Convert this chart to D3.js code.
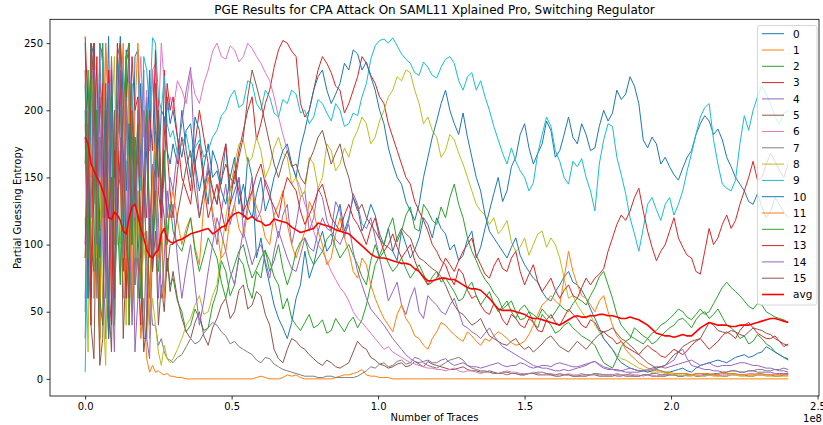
<!DOCTYPE html>
<html>
<head>
<meta charset="utf-8">
<script src="https://cdn.jsdelivr.net/npm/d3@7"></script>
<style>
  body { margin: 0; background: #fff; }
  svg { display: block; font-family: "DejaVu Sans", sans-serif; }
</style>
</head>
<body>
<div id="chart"></div>
<script>
// sample grid (in 1e8 traces): 30 samples every 0.01 from 0, 60 every 0.015 from 0.3, 81 every 0.015 from 1.2
const grid = [{ start: 0, step: 0.01, count: 30 }, { start: 0.3, step: 0.015, count: 60 }, { start: 1.2, step: 0.015, count: 81 }];
const xTicks = [0, 0.5, 1.0, 1.5, 2.0, 2.5];
const yTicks = [0, 50, 100, 150, 200, 250];
const seriesNames = ["0", "1", "2", "3", "4", "5", "6", "7", "8", "9", "10", "11", "12", "13", "14", "15", "avg"];
const seriesColors = ["#1f77b4", "#ff7f0e", "#2ca02c", "#d62728", "#9467bd", "#8c564b", "#e377c2", "#7f7f7f",
  "#bcbd22", "#17becf", "#1f77b4", "#ff7f0e", "#2ca02c", "#d62728", "#9467bd", "#8c564b", "#ff0000"];

const s0 = [250, 140, 220, 180, 90, 250, 240, 160, 255, 120, 60, 190, 200, 130, 245,
  235, 110, 180, 160, 220, 140, 210, 170, 230, 185, 150, 200, 195, 170, 160,
  175, 160, 200, 170, 150, 195, 185, 150, 130, 170, 160, 145, 175, 130, 140, 150, 120, 165, 150, 90,
  105, 85, 70, 55, 45, 38, 30, 42, 60, 70, 95, 75, 85, 100, 110, 95, 100, 118, 130, 110,
  120, 135, 128, 110, 118, 130, 122, 108, 100, 112, 95, 88, 110, 100, 90, 96, 105, 120, 115, 105,
  120, 112, 108, 96, 100, 88, 92, 104, 110, 90, 98, 112, 125, 138, 150, 132, 140, 158, 165, 182,
  190, 172, 160, 168, 175, 192, 185, 165, 170, 182, 195, 180, 175, 190, 182, 170, 172, 188, 200, 192,
  198, 215, 208, 212, 225, 218, 205, 178, 172, 180, 175, 160, 165, 158, 152, 148, 157, 165, 170, 182,
  190, 196, 192, 182, 186, 178, 165, 158, 150, 145, 140, 132, 130, 138, 128, 120, 125, 135, 130, 124, 120];
const s1 = [190, 100, 250, 60, 150, 20, 230, 120, 200, 100, 40, 170, 150, 60, 110,
  40, 130, 70, 90, 30, 60, 15, 5, 10, 5, 6, 4, 3, 4, 2,
  2, 1, 1, 0, 0, 0, 0, 0, 0, 0, 0, 0, 0, 0, 0, 0, 0, 0, 0, 1,
  2, 1, 0, 0, 0, 1, 3, 2, 3, 1, 0, 0, 0, 0, 0, 0, 0, 1, 2, 3,
  3, 4, 5, 7, 3, 2, 2, 1, 1, 1, 0, 0, 0, 0, 0, 0, 0, 0, 0, 0,
  0, 0, 0, 0, 0, 0, 0, 0, 0, 0, 0, 0, 0, 0, 0, 0, 0, 0, 0, 0,
  0, 0, 0, 0, 0, 0, 0, 0, 0, 0, 0, 0, 0, 0, 0, 0, 0, 0, 0, 0,
  0, 0, 0, 0, 0, 0, 0, 0, 0, 0, 0, 0, 0, 0, 0, 0, 0, 0, 0, 0,
  0, 0, 0, 0, 0, 0, 0, 0, 0, 0, 0, 0, 0, 0, 0, 0, 0, 0, 0, 0, 0];
const s2 = [160, 230, 100, 80, 200, 30, 250, 150, 210, 120, 40, 180, 200, 90, 240,
  40, 130, 70, 180, 110, 150, 90, 60, 120, 140, 80, 110, 60, 90, 70,
  75, 58, 50, 35, 40, 52, 45, 36, 38, 55, 65, 88, 80, 62, 70, 90, 85, 68, 60, 80,
  75, 95, 88, 76, 70, 52, 60, 45, 40, 36, 42, 48, 38, 40, 44, 34, 36, 45, 40, 35,
  42, 46, 38, 44, 55, 70, 85, 92, 100, 112, 120, 102, 110, 122, 128, 112, 110, 130, 125, 118,
  115, 128, 120, 135, 145, 130, 120, 105, 95, 88, 80, 74, 70, 64, 60, 52, 55, 58, 50, 44,
  45, 50, 42, 38, 48, 44, 40, 34, 36, 40, 42, 38, 35, 32, 30, 28, 25, 18, 12, 10,
  8, 15, 24, 28, 30, 38, 35, 32, 30, 26, 28, 32, 35, 38, 40, 44, 45, 42, 38, 44,
  48, 50, 45, 48, 52, 46, 40, 38, 35, 30, 32, 26, 28, 33, 30, 26, 24, 20, 18, 16, 15];
const s3 = [255, 200, 60, 140, 240, 110, 220, 90, 30, 60, 160, 250, 180, 80, 200,
  250, 140, 170, 90, 40, 120, 200, 110, 160, 150, 210, 100, 230, 170, 140,
  120, 155, 180, 160, 140, 175, 200, 180, 160, 140, 130, 160, 175, 140, 150, 170, 185, 200, 210, 178,
  190, 205, 215, 232, 245, 252, 250, 244, 240, 205, 195, 200, 215, 230, 240, 235, 228, 218, 215, 198,
  205, 215, 225, 240, 235, 226, 220, 210, 205, 190, 180, 170, 160, 150, 145, 132, 125, 118, 110, 100,
  95, 88, 85, 76, 70, 82, 78, 66, 60, 62, 55, 50, 48, 56, 52, 44, 40, 48, 45, 40,
  38, 45, 42, 36, 35, 44, 48, 42, 40, 46, 52, 48, 45, 40, 38, 44, 42, 36, 35, 32,
  30, 26, 28, 24, 22, 20, 18, 22, 25, 22, 20, 17, 16, 19, 22, 20, 18, 21, 25, 28,
  30, 26, 22, 25, 28, 32, 35, 33, 30, 36, 40, 42, 38, 34, 32, 30, 30, 32, 28, 24, 26];
const s4 = [180, 60, 220, 250, 120, 200, 100, 30, 170, 210, 70, 140, 150, 240, 100,
  240, 160, 20, 60, 130, 200, 190, 90, 160, 130, 60, 100, 170, 120, 150,
  140, 170, 190, 215, 232, 160, 120, 140, 160, 120, 100, 125, 145, 115, 130, 150, 110, 130, 150, 118,
  125, 148, 140, 120, 105, 122, 130, 100, 115, 135, 140, 110, 120, 142, 135, 118, 110, 132, 125, 105,
  118, 138, 130, 115, 112, 120, 105, 90, 75, 58, 65, 72, 55, 48, 60, 68, 50, 45, 62, 58,
  55, 50, 48, 55, 60, 50, 40, 38, 35, 33, 30, 34, 38, 32, 28, 24, 22, 20, 18, 16,
  14, 12, 10, 9, 8, 8, 7, 6, 6, 7, 6, 7, 8, 9, 10, 12, 13, 11, 9, 8,
  7, 6, 6, 5, 5, 5, 5, 6, 6, 7, 8, 9, 10, 12, 14, 20, 22, 15, 10, 9,
  8, 7, 7, 6, 6, 5, 5, 6, 6, 5, 5, 6, 6, 5, 5, 5, 5, 4, 4, 4, 4];
const s5 = [230, 100, 40, 15, 150, 220, 200, 80, 60, 20, 200, 120, 170, 30, 90,
  60, 180, 110, 140, 70, 30, 30, 120, 80, 110, 40, 70, 50, 90, 65,
  80, 60, 45, 35, 30, 42, 50, 32, 25, 38, 45, 55, 60, 45, 50, 66, 70, 52, 55, 65,
  62, 48, 40, 22, 15, 12, 22, 30, 28, 24, 22, 18, 15, 12, 10, 14, 12, 9, 8, 10,
  12, 20, 28, 24, 22, 16, 14, 11, 10, 8, 9, 11, 12, 9, 10, 13, 11, 9, 13, 11,
  10, 9, 8, 7, 7, 8, 9, 7, 6, 6, 5, 5, 6, 5, 4, 5, 5, 4, 4, 3,
  3, 4, 4, 3, 3, 3, 3, 2, 2, 3, 3, 2, 2, 2, 2, 3, 3, 2, 2, 2,
  2, 3, 3, 2, 2, 2, 2, 3, 3, 2, 2, 2, 2, 3, 3, 2, 2, 3, 3, 2,
  2, 3, 3, 3, 3, 2, 2, 3, 3, 3, 3, 2, 2, 3, 3, 3, 3, 2, 2, 3, 3];
const s6 = [60, 150, 240, 210, 80, 170, 100, 250, 190, 240, 130, 200, 180, 230, 140,
  165, 210, 120, 195, 240, 180, 215, 170, 230, 235, 190, 250, 220, 200, 210,
  200, 222, 215, 205, 228, 212, 205, 220, 230, 244, 250, 240, 238, 248, 245, 236, 240, 250, 246, 240,
  235, 228, 222, 210, 195, 182, 170, 160, 150, 142, 130, 122, 110, 100, 95, 88, 80, 74, 68, 64,
  58, 50, 45, 42, 38, 34, 30, 26, 22, 24, 20, 18, 16, 14, 12, 11, 10, 9, 8, 8,
  7, 7, 6, 7, 8, 6, 5, 6, 6, 5, 4, 5, 5, 4, 4, 5, 6, 5, 5, 4,
  4, 4, 5, 4, 3, 4, 4, 3, 3, 3, 4, 3, 3, 4, 3, 3, 4, 4, 3, 3,
  3, 4, 3, 3, 4, 3, 3, 2, 3, 3, 2, 3, 3, 3, 3, 4, 4, 3, 3, 3,
  3, 2, 3, 3, 2, 3, 3, 4, 3, 3, 3, 4, 4, 3, 3, 3, 3, 4, 3, 3, 3];
const s7 = [30, 150, 240, 200, 60, 180, 120, 220, 40, 240, 100, 170, 80, 130, 210,
  160, 50, 120, 60, 100, 30, 110, 70, 40, 40, 25, 30, 20, 15, 14,
  12, 16, 18, 24, 30, 26, 28, 34, 38, 42, 40, 35, 32, 26, 28, 24, 22, 20, 18, 14,
  12, 16, 15, 11, 9, 7, 6, 5, 4, 3, 2, 2, 2, 1, 1, 2, 2, 1, 1, 1,
  1, 1, 2, 4, 6, 9, 8, 11, 12, 9, 10, 13, 14, 11, 12, 16, 15, 12, 10, 9,
  8, 10, 12, 14, 15, 16, 14, 10, 8, 7, 6, 6, 5, 4, 4, 4, 3, 4, 4, 3,
  3, 4, 4, 5, 5, 4, 3, 3, 4, 3, 3, 2, 2, 3, 3, 3, 4, 3, 3, 3,
  3, 2, 2, 3, 3, 2, 2, 3, 3, 4, 4, 3, 3, 3, 3, 2, 2, 3, 3, 4,
  4, 3, 3, 4, 4, 5, 5, 6, 6, 5, 5, 6, 6, 7, 7, 6, 6, 7, 7, 8, 7];
const s8 = [120, 20, 200, 230, 90, 150, 60, 10, 140, 190, 240, 100, 100, 170, 40,
  220, 150, 90, 140, 60, 100, 80, 30, 60, 40, 20, 10, 25, 15, 12,
  15, 22, 30, 40, 45, 55, 62, 48, 50, 62, 70, 95, 120, 140, 160, 175, 178, 160, 165, 180,
  170, 150, 158, 172, 180, 168, 165, 145, 150, 135, 140, 165, 160, 142, 150, 175, 170, 155, 160, 172,
  165, 178, 185, 195, 190, 175, 180, 192, 200, 210, 215, 225, 222, 230, 228, 215, 205, 190, 195, 185,
  180, 165, 170, 182, 178, 168, 160, 150, 140, 130, 125, 122, 115, 120, 108, 112, 118, 102, 95, 98,
  105, 92, 100, 108, 110, 98, 105, 100, 90, 75, 60, 62, 55, 50, 45, 48, 40, 35, 30, 26,
  22, 18, 15, 14, 12, 10, 8, 7, 6, 5, 5, 5, 4, 4, 3, 3, 3, 2, 2, 3,
  2, 2, 3, 2, 2, 2, 2, 3, 3, 2, 2, 2, 2, 3, 3, 2, 2, 2, 2, 2, 2];
const s9 = [5, 120, 220, 200, 100, 250, 235, 150, 40, 180, 110, 240, 215, 90, 160,
  170, 220, 130, 200, 140, 240, 230, 200, 254, 250, 210, 200, 225, 190, 180,
  185, 168, 175, 182, 165, 172, 178, 165, 170, 180, 185, 196, 200, 210, 215, 202, 205, 222, 220, 205,
  200, 215, 210, 198, 195, 208, 205, 215, 212, 198, 200, 190, 195, 208, 205, 198, 192, 205, 200, 188,
  190, 198, 196, 210, 220, 238, 248, 252, 253, 250, 254, 248, 242, 238, 235, 228, 226, 236, 232, 226,
  224, 232, 238, 240, 235, 222, 215, 225, 228, 215, 222, 210, 200, 188, 178, 168, 160, 172, 162, 155,
  150, 140, 146, 168, 182, 195, 188, 170, 162, 150, 145, 162, 158, 164, 150, 140, 125, 160, 178, 190,
  188, 165, 152, 138, 120, 108, 95, 112, 130, 135, 126, 118, 130, 135, 122, 130, 140, 155, 168, 182,
  195, 202, 205, 178, 160, 145, 142, 140, 148, 175, 196, 185, 200, 210, 218, 212, 205, 195, 190, 198, 200];
const s10 = [200, 60, 240, 250, 180, 90, 140, 220, 30, 230, 150, 200, 255, 210, 140,
  190, 100, 240, 245, 160, 120, 170, 230, 90, 220, 180, 130, 150, 210, 190,
  200, 180, 165, 185, 190, 160, 140, 158, 175, 150, 155, 140, 130, 150, 165, 130, 145, 128, 120, 138,
  150, 125, 135, 150, 160, 170, 175, 160, 150, 172, 185, 200, 215, 225, 230, 215, 205, 212, 220, 235,
  230, 245, 242, 230, 236, 225, 215, 200, 190, 172, 160, 150, 145, 132, 125, 118, 130, 150, 165, 180,
  192, 205, 215, 200, 190, 182, 198, 180, 165, 150, 140, 122, 110, 105, 100, 95, 90, 98, 105, 92,
  85, 80, 75, 72, 65, 60, 58, 65, 70, 76, 80, 72, 70, 66, 60, 52, 45, 38, 30, 26,
  22, 16, 12, 10, 8, 7, 6, 6, 5, 6, 7, 6, 5, 5, 6, 7, 8, 6, 5, 8,
  10, 11, 12, 13, 14, 13, 12, 14, 16, 17, 18, 16, 17, 19, 20, 24, 22, 20, 18, 16, 14];
const s11 = [90, 200, 150, 240, 100, 30, 160, 250, 200, 50, 120, 180, 210, 250, 70,
  130, 60, 200, 250, 180, 110, 100, 40, 150, 180, 90, 120, 60, 110, 130,
  140, 118, 100, 112, 120, 98, 85, 130, 150, 125, 110, 90, 95, 120, 130, 112, 105, 125, 140, 128,
  120, 105, 100, 122, 130, 140, 115, 100, 90, 100, 110, 132, 125, 110, 100, 85, 90, 108, 120, 105,
  95, 80, 75, 90, 85, 70, 60, 52, 45, 40, 35, 48, 55, 45, 40, 32, 30, 25, 22, 30,
  35, 42, 40, 36, 33, 30, 28, 35, 32, 28, 25, 30, 28, 32, 35, 33, 30, 27, 25, 26,
  28, 33, 40, 48, 55, 58, 62, 58, 55, 75, 95, 80, 70, 62, 60, 55, 50, 58, 62, 50,
  40, 32, 28, 22, 18, 15, 12, 10, 8, 7, 6, 6, 5, 5, 4, 4, 4, 4, 3, 4,
  4, 4, 4, 3, 3, 4, 4, 4, 4, 3, 3, 3, 3, 4, 4, 3, 3, 3, 3, 3, 3];
const s12 = [220, 90, 250, 130, 200, 60, 40, 160, 230, 190, 60, 120, 70, 200, 240,
  250, 100, 180, 110, 60, 150, 200, 120, 90, 130, 200, 140, 170, 100, 130,
  110, 100, 95, 108, 120, 95, 80, 92, 105, 98, 90, 72, 60, 75, 85, 95, 100, 86, 75, 82,
  90, 96, 80, 88, 100, 82, 70, 80, 95, 102, 105, 92, 85, 90, 95, 104, 108, 98, 90, 95,
  100, 92, 85, 76, 70, 88, 100, 90, 95, 86, 80, 84, 90, 82, 75, 80, 85, 78, 70, 76,
  80, 72, 75, 70, 65, 58, 60, 68, 72, 62, 55, 60, 65, 56, 50, 54, 58, 50, 45, 52,
  55, 50, 48, 45, 52, 48, 45, 50, 55, 52, 50, 56, 60, 58, 55, 62, 68, 76, 80, 70,
  60, 48, 40, 36, 32, 30, 28, 26, 30, 34, 36, 40, 42, 45, 48, 52, 50, 46, 44, 48,
  52, 48, 50, 56, 62, 68, 72, 68, 65, 62, 58, 54, 52, 56, 55, 50, 48, 46, 45, 44, 42];
const s13 = [100, 190, 40, 250, 140, 210, 180, 80, 230, 40, 170, 120, 230, 120, 60,
  160, 240, 200, 210, 90, 150, 120, 200, 170, 245, 140, 120, 180, 220, 200,
  210, 180, 150, 140, 130, 160, 175, 145, 120, 132, 145, 125, 110, 130, 155, 140, 125, 132, 140, 152,
  160, 145, 135, 128, 120, 138, 150, 145, 140, 125, 115, 122, 130, 140, 145, 132, 120, 115, 110, 122,
  130, 120, 115, 108, 100, 112, 120, 105, 95, 100, 108, 98, 90, 95, 100, 88, 80, 75, 70, 72,
  75, 82, 90, 85, 80, 88, 95, 100, 105, 92, 85, 78, 75, 84, 90, 82, 80, 90, 95, 80,
  70, 78, 85, 72, 65, 70, 75, 66, 60, 66, 70, 62, 60, 68, 75, 70, 75, 78, 82, 95,
  105, 115, 122, 118, 125, 135, 142, 125, 110, 98, 88, 95, 100, 110, 120, 105, 98, 92, 90, 80,
  78, 95, 112, 100, 105, 115, 122, 112, 118, 130, 140, 150, 162, 148, 150, 160, 168, 162, 155, 150, 160];
const s14 = [50, 200, 120, 230, 100, 250, 150, 60, 220, 80, 20, 180, 250, 140, 200,
  120, 40, 90, 200, 150, 230, 30, 15, 100, 160, 120, 60, 90, 140, 120,
  130, 90, 60, 82, 100, 70, 40, 58, 80, 100, 120, 108, 95, 80, 70, 92, 110, 98, 85, 95,
  100, 88, 75, 95, 110, 100, 90, 82, 80, 92, 105, 98, 95, 110, 120, 112, 110, 104, 100, 108,
  115, 95, 80, 70, 60, 52, 48, 44, 40, 35, 30, 26, 22, 18, 15, 13, 12, 13, 14, 12,
  12, 14, 15, 12, 10, 11, 12, 10, 9, 9, 8, 9, 10, 11, 12, 10, 9, 10, 10, 12,
  11, 9, 8, 9, 10, 10, 9, 11, 12, 11, 10, 9, 9, 10, 11, 12, 13, 10, 8, 7,
  7, 7, 6, 7, 8, 7, 6, 6, 7, 8, 9, 9, 8, 9, 10, 11, 12, 13, 14, 12,
  10, 11, 12, 10, 9, 10, 10, 10, 11, 12, 12, 11, 10, 10, 9, 8, 8, 7, 6, 6, 5];
const s15 = [90, 160, 250, 220, 110, 10, 30, 200, 120, 150, 60, 240, 250, 170, 100,
  80, 200, 130, 190, 90, 20, 40, 120, 80, 160, 200, 140, 120, 80, 100,
  100, 122, 140, 158, 170, 140, 120, 138, 155, 142, 130, 148, 160, 150, 145, 165, 180, 210, 230, 218,
  205, 190, 175, 160, 150, 162, 170, 158, 160, 150, 145, 162, 170, 180, 185, 172, 160, 168, 175, 160,
  150, 135, 125, 130, 120, 115, 110, 104, 100, 98, 95, 105, 112, 108, 105, 96, 90, 88, 85, 82,
  80, 76, 70, 62, 55, 50, 48, 44, 40, 42, 45, 38, 32, 30, 28, 26, 25, 28, 30, 25,
  22, 24, 20, 23, 26, 30, 32, 28, 24, 22, 20, 24, 28, 25, 22, 26, 30, 33, 35, 36,
  38, 34, 30, 28, 25, 22, 18, 15, 12, 10, 8, 9, 10, 14, 18, 20, 24, 26, 28, 29,
  30, 36, 42, 40, 36, 35, 34, 36, 35, 33, 32, 35, 38, 37, 36, 34, 33, 30, 28, 26, 25];
const avg = [180, 175, 160, 155, 150, 146, 140, 133, 120, 119, 124, 122, 118, 110, 108,
  120, 128, 130, 122, 112, 105, 96, 92, 90, 94, 96, 108, 112, 104, 102,
  101, 103, 104, 106, 108, 109, 110, 111, 112, 108, 110, 113, 114, 120, 123, 124, 122, 119, 121, 118,
  117, 114, 115, 119, 118, 117, 116, 113, 111, 109, 110, 111, 112, 116, 115, 114, 113, 111, 110, 109,
  108, 105, 102, 99, 96, 93, 91, 90, 90, 89, 88, 87, 86, 86, 85, 82, 80, 76, 73, 73,
  74, 75, 75, 74, 74, 72, 70, 68, 67, 67, 66, 63, 60, 56, 52, 51, 51, 51, 50, 49,
  48, 46, 45, 45, 44, 43, 42, 41, 40, 42, 44, 46, 47, 46, 46, 47, 47, 48, 48, 47,
  47, 46, 45, 45, 46, 45, 44, 42, 40, 37, 34, 33, 32, 32, 31, 32, 33, 32, 32, 35,
  38, 40, 42, 41, 40, 40, 40, 39, 39, 40, 40, 40, 41, 42, 43, 44, 45, 45, 44, 43, 42];

const seriesValues = [s0, s1, s2, s3, s4, s5, s6, s7, s8, s9, s10, s11, s12, s13, s14, s15, avg];

// trace count (in 1e8) of sample i
function traceAt(i) {
  for (const seg of grid) {
    if (i < seg.count) return seg.start + i * seg.step;
    i -= seg.count;
  }
  return NaN;
}

const W = 823, H = 425;
const plot = { left: 50, right: 819, top: 19.3, bottom: 396 };

const svg = d3.select("#chart").append("svg").attr("width", W).attr("height", H);

const x = d3.scaleLinear().domain([-0.12, 2.505]).range([plot.left, plot.right]);
const y = d3.scaleLinear().domain([-12.75, 267.75]).range([plot.bottom, plot.top]);

const line = d3.line()
  .defined((d, i) => !isNaN(traceAt(i)))
  .x((d, i) => x(traceAt(i)))
  .y(d => y(d));

const lines = svg.append("g");
seriesValues.forEach((vals, k) => {
  lines.append("path")
    .datum(vals)
    .attr("fill", "none")
    .attr("stroke", seriesColors[k])
    .attr("stroke-width", k === 16 ? 1.6 : 1)
    .attr("stroke-linejoin", "round")
    .attr("d", line);
});

// axes
const gx = svg.append("g").attr("transform", `translate(0,${plot.bottom})`)
  .call(d3.axisBottom(x).tickValues(xTicks).tickFormat(d3.format(".1f")).tickSizeOuter(0).tickSize(3.5).tickPadding(3.5));
const gy = svg.append("g").attr("transform", `translate(${plot.left},0)`)
  .call(d3.axisLeft(y).tickValues(yTicks).tickSizeOuter(0).tickSize(3.5).tickPadding(3.5));
[gx, gy].forEach(g => {
  g.select(".domain").remove();
  g.selectAll("line").attr("stroke", "#000").attr("stroke-width", 0.8);
  g.selectAll("text").attr("fill", "#000").style("font-size", "10px").style("font-family", "DejaVu Sans");
});

svg.append("rect")
  .attr("x", plot.left).attr("y", plot.top)
  .attr("width", plot.right - plot.left).attr("height", plot.bottom - plot.top)
  .attr("fill", "none").attr("stroke", "#000").attr("stroke-width", 0.8);

svg.append("text")
  .attr("x", (plot.left + plot.right) / 2).attr("y", 14)
  .attr("text-anchor", "middle")
  .style("font-size", "12px")
  .text("PGE Results for CPA Attack On SAML11 Xplained Pro, Switching Regulator");

svg.append("text")
  .attr("x", (plot.left + plot.right) / 2).attr("y", 421)
  .attr("text-anchor", "middle")
  .style("font-size", "10px")
  .text("Number of Traces");

svg.append("text")
  .attr("transform", `translate(21,${(plot.top + plot.bottom) / 2}) rotate(-90)`)
  .attr("text-anchor", "middle")
  .style("font-size", "10px")
  .text("Partial Guessing Entropy");

svg.append("text")
  .attr("x", 822).attr("y", 422)
  .attr("text-anchor", "end")
  .style("font-size", "10px")
  .text("1e8");

// legend
const legend = svg.append("g");
legend.append("rect")
  .attr("x", 757.5).attr("y", 25.5)
  .attr("width", 59.5).attr("height", 279.5)
  .attr("rx", 2.5)
  .attr("fill", "#fff").attr("fill-opacity", 0.8)
  .attr("stroke", "#cccccc").attr("stroke-width", 0.8);

const entry = legend.selectAll("g.entry")
  .data(seriesNames)
  .join("g")
  .attr("class", "entry")
  .attr("transform", (d, i) => `translate(0,${33.7 + i * 16.3})`);
entry.append("line")
  .attr("x1", 762).attr("x2", 784)
  .attr("stroke", (d, i) => seriesColors[i])
  .attr("stroke-width", (d, i) => i === 16 ? 1.6 : 1);
entry.append("text")
  .attr("x", 793).attr("y", 3.8)
  .style("font-size", "10.5px")
  .text(d => d);
</script>
</body>
</html>
